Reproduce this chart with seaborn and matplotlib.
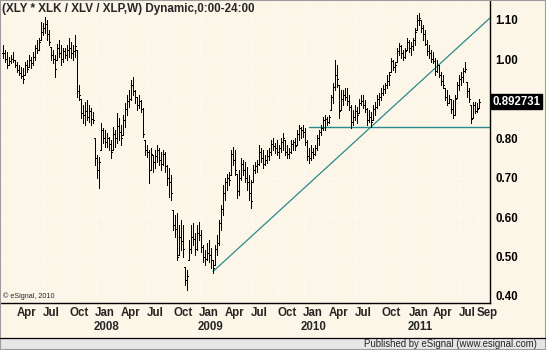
import numpy as np
import pandas as pd
import matplotlib
matplotlib.use("Agg")
import matplotlib.pyplot as plt
from matplotlib.patches import Rectangle
from matplotlib.lines import Line2D
import seaborn as sns

# ---- weekly ratio bars: (XLY * XLK) / (XLV * XLP) ----
first_week = "2007-02-09"

highs = [
    1.036, 1.024, 1.019, 1.006, 1.011, 1.019, 0.999, 0.993, 0.986, 0.981,
    0.978, 0.993, 0.999, 1.011, 1.006, 1.019, 1.036, 1.049, 1.054, 1.095,
    1.092, 1.107, 1.100, 1.075, 1.031, 1.024, 1.011, 1.040, 1.049, 1.036,
    1.029, 1.029, 1.036, 1.054, 1.044, 1.036, 1.062, 1.024, 0.935, 0.900,
    0.884, 0.892, 0.897, 0.884, 0.877, 0.867, 0.800, 0.758, 0.753, 0.839,
    0.826, 0.821, 0.813, 0.803, 0.796, 0.829, 0.821, 0.864, 0.851, 0.834,
    0.859, 0.890, 0.910, 0.922, 0.948, 0.955, 0.922, 0.905, 0.910, 0.897,
    0.877, 0.796, 0.783, 0.770, 0.775, 0.758, 0.770, 0.783, 0.775, 0.765,
    0.770, 0.765, 0.732, 0.725, 0.707, 0.618, 0.605, 0.610, 0.580, 0.593,
    0.580, 0.474, 0.466, 0.542, 0.580, 0.585, 0.560, 0.580, 0.588, 0.567,
    0.529, 0.517, 0.535, 0.542, 0.522, 0.491, 0.529, 0.555, 0.593, 0.631,
    0.682, 0.700, 0.710, 0.715, 0.770, 0.778, 0.770, 0.710, 0.719, 0.750,
    0.745, 0.740, 0.727, 0.707, 0.694, 0.732, 0.740, 0.745, 0.783, 0.775,
    0.770, 0.758, 0.770, 0.775, 0.796, 0.800, 0.788, 0.796, 0.783, 0.800,
    0.813, 0.796, 0.783, 0.775, 0.796, 0.796, 0.800, 0.821, 0.834, 0.829,
    0.834, 0.826, 0.796, 0.775, 0.783, 0.775, 0.783, 0.808, 0.821, 0.834,
    0.854, 0.859, 0.854, 0.859, 0.910, 0.940, 0.999, 0.986, 0.935, 0.922,
    0.922, 0.928, 0.928, 0.910, 0.884, 0.872, 0.884, 0.879, 0.900, 0.910,
    0.910, 0.897, 0.877, 0.872, 0.867, 0.884, 0.892, 0.910, 0.915, 0.928,
    0.935, 0.940, 0.960, 0.968, 1.004, 0.999, 0.993, 1.029, 1.041, 1.036,
    1.024, 1.029, 1.054, 1.049, 1.044, 1.054, 1.080, 1.113, 1.118, 1.100,
    1.087, 1.075, 1.049, 1.036, 1.024, 1.019, 1.004, 0.999, 0.986, 0.968,
    0.960, 0.928, 0.922, 0.910, 0.900, 0.897, 0.910, 0.943, 0.960, 0.968,
    0.978, 0.993, 0.943, 0.928, 0.884, 0.892, 0.892, 0.890, 0.900,
]

lows = [
    1.004, 0.994, 0.978, 0.986, 0.991, 0.994, 0.981, 0.968, 0.960, 0.953,
    0.940, 0.960, 0.968, 0.981, 0.978, 0.986, 0.999, 1.016, 1.024, 1.049,
    1.062, 1.067, 1.049, 1.037, 0.999, 0.991, 0.955, 0.999, 1.006, 0.986,
    0.994, 1.004, 0.999, 1.006, 1.004, 0.999, 1.006, 0.905, 0.897, 0.851,
    0.839, 0.834, 0.846, 0.841, 0.834, 0.839, 0.732, 0.700, 0.675, 0.770,
    0.788, 0.778, 0.778, 0.770, 0.750, 0.770, 0.778, 0.788, 0.796, 0.783,
    0.808, 0.829, 0.859, 0.879, 0.897, 0.910, 0.890, 0.872, 0.877, 0.867,
    0.803, 0.758, 0.753, 0.687, 0.719, 0.715, 0.725, 0.740, 0.732, 0.719,
    0.732, 0.715, 0.682, 0.651, 0.643, 0.567, 0.550, 0.491, 0.504, 0.517,
    0.500, 0.428, 0.415, 0.491, 0.509, 0.529, 0.504, 0.517, 0.542, 0.512,
    0.486, 0.479, 0.491, 0.486, 0.471, 0.459, 0.479, 0.504, 0.529, 0.567,
    0.605, 0.643, 0.669, 0.682, 0.707, 0.732, 0.707, 0.649, 0.656, 0.694,
    0.707, 0.689, 0.669, 0.643, 0.623, 0.689, 0.712, 0.715, 0.732, 0.740,
    0.725, 0.732, 0.737, 0.745, 0.758, 0.770, 0.763, 0.758, 0.750, 0.765,
    0.770, 0.758, 0.750, 0.750, 0.763, 0.770, 0.770, 0.783, 0.796, 0.800,
    0.803, 0.783, 0.745, 0.737, 0.745, 0.750, 0.758, 0.770, 0.783, 0.808,
    0.821, 0.821, 0.834, 0.839, 0.872, 0.890, 0.922, 0.930, 0.851, 0.872,
    0.884, 0.897, 0.884, 0.872, 0.826, 0.834, 0.846, 0.839, 0.864, 0.884,
    0.877, 0.867, 0.834, 0.841, 0.829, 0.846, 0.859, 0.877, 0.884, 0.897,
    0.910, 0.915, 0.928, 0.935, 0.968, 0.973, 0.968, 0.993, 1.011, 1.004,
    0.999, 1.004, 1.024, 1.019, 1.011, 1.024, 1.036, 1.075, 1.087, 1.070,
    1.049, 1.036, 1.011, 1.004, 0.993, 0.991, 0.960, 0.968, 0.955, 0.935,
    0.928, 0.897, 0.884, 0.890, 0.864, 0.851, 0.859, 0.902, 0.922, 0.935,
    0.943, 0.968, 0.905, 0.892, 0.839, 0.851, 0.864, 0.867, 0.877,
]

closes = [
    1.015, 1.000, 0.985, 0.995, 1.000, 0.998, 0.985, 0.972, 0.965, 0.958,
    0.950, 0.985, 0.975, 0.998, 0.990, 1.005, 1.030, 1.025, 1.045, 1.070,
    1.080, 1.090, 1.065, 1.045, 1.010, 1.000, 0.975, 1.030, 1.015, 1.000,
    1.020, 1.010, 1.025, 1.030, 1.015, 1.020, 1.035, 0.920, 0.910, 0.865,
    0.860, 0.870, 0.855, 0.870, 0.850, 0.845, 0.750, 0.720, 0.740, 0.820,
    0.800, 0.790, 0.800, 0.785, 0.765, 0.810, 0.800, 0.830, 0.815, 0.800,
    0.845, 0.875, 0.895, 0.900, 0.935, 0.920, 0.905, 0.885, 0.895, 0.875,
    0.810, 0.770, 0.765, 0.720, 0.760, 0.740, 0.755, 0.770, 0.745, 0.735,
    0.760, 0.730, 0.700, 0.690, 0.660, 0.580, 0.570, 0.500, 0.550, 0.540,
    0.520, 0.440, 0.450, 0.520, 0.550, 0.545, 0.520, 0.560, 0.555, 0.525,
    0.500, 0.495, 0.510, 0.505, 0.490, 0.470, 0.520, 0.535, 0.585, 0.620,
    0.660, 0.690, 0.700, 0.695, 0.760, 0.745, 0.720, 0.665, 0.700, 0.735,
    0.720, 0.700, 0.690, 0.660, 0.640, 0.720, 0.730, 0.735, 0.765, 0.750,
    0.735, 0.745, 0.755, 0.765, 0.785, 0.780, 0.775, 0.765, 0.775, 0.790,
    0.800, 0.765, 0.760, 0.765, 0.785, 0.790, 0.780, 0.810, 0.825, 0.820,
    0.815, 0.790, 0.755, 0.750, 0.765, 0.760, 0.775, 0.800, 0.815, 0.825,
    0.845, 0.850, 0.840, 0.855, 0.905, 0.930, 0.960, 0.950, 0.870, 0.900,
    0.910, 0.905, 0.895, 0.880, 0.840, 0.855, 0.870, 0.860, 0.890, 0.895,
    0.885, 0.875, 0.845, 0.855, 0.840, 0.875, 0.880, 0.900, 0.905, 0.915,
    0.925, 0.935, 0.945, 0.960, 0.995, 0.980, 0.985, 1.020, 1.035, 1.015,
    1.005, 1.020, 1.045, 1.030, 1.035, 1.050, 1.070, 1.100, 1.105, 1.080,
    1.065, 1.040, 1.020, 1.015, 1.000, 0.995, 0.970, 0.985, 0.960, 0.945,
    0.935, 0.905, 0.890, 0.900, 0.875, 0.860, 0.900, 0.935, 0.950, 0.955,
    0.970, 0.975, 0.920, 0.900, 0.850, 0.885, 0.870, 0.875, 0.892731,
]

# drawn study lines (week index, value)
trend_weeks = [105, 243.5]
trend_values = [0.462, 1.105]
support_weeks = [153, 243.5]
support_values = [0.829, 0.829]

y_tick_values = [0.40, 0.50, 0.60, 0.70, 0.80, 1.00, 1.10]
y_grid_values = [0.40, 0.50, 0.60, 0.70, 0.80, 0.90, 1.00, 1.10]
label_months = [1, 4, 7, 10]

title_text = "(XLY * XLK / XLV / XLP,W) Dynamic,0:00-24:00"
copyright_text = "\u00a9 eSignal, 2010"
footer_text = "Published by eSignal (www.esignal.com)"

# ---- styling ----
BG = "#FCF6E8"
TEAL = "#2a8a8a"
sns.set_theme(style="white", rc={"figure.facecolor": BG, "axes.facecolor": BG})
plt.rcParams["font.family"] = ["Liberation Sans", "DejaVu Sans"]

W, H = 546, 350
fig = plt.figure(figsize=(W / 100, H / 100), dpi=100)
ax = fig.add_axes([1 / W, 1 - 303 / H, 489 / W, 302 / H])
ax.set_facecolor(BG)

n = len(closes)
weeks = np.arange(n)
dates = pd.date_range(first_week, periods=n, freq="W-FRI")
hi = np.array(highs)
lo = np.array(lows)
cl = np.array(closes)
op = np.clip(np.concatenate([[cl[0]], cl[:-1]]), lo, hi)

df = pd.DataFrame({"week": weeks, "date": dates, "high": hi, "low": lo,
                   "open": op, "close": cl})

# month / year label positions: first bar of each labelled month
month_pos, month_txt, year_pos, year_txt = [], [], [], []
for i, d in enumerate(df["date"]):
    new_month = i == 0 or df["date"].iloc[i - 1].month != d.month
    if not new_month or i == 0:
        continue
    if d.month in label_months or i == n - 1:
        month_pos.append(i)
        month_txt.append(d.strftime("%b"))
        if d.month == 1:
            year_pos.append(i)
            year_txt.append(str(d.year))

# dotted grid
for v in y_grid_values:
    ax.axhline(v, color="white", lw=0.9, ls=(0, (1, 2)), zorder=0)
for p in month_pos:
    ax.axvline(p - 0.5, color="white", lw=0.9, ls=(0, (1, 2)), zorder=0)

# OHLC bars
bar_kw = dict(color="black", lw=0.72, zorder=3, antialiased=False)
ax.vlines(df["week"], df["low"], df["high"], **bar_kw)
ax.hlines(df["open"], df["week"] - 0.55, df["week"], **bar_kw)
ax.hlines(df["close"], df["week"], df["week"] + 0.55, **bar_kw)

# trend and support lines
sns.lineplot(x=trend_weeks, y=trend_values, ax=ax, color=TEAL, lw=0.9, zorder=2)
sns.lineplot(x=support_weeks, y=support_values, ax=ax, color=TEAL, lw=1.0, zorder=2)

ax.set_xlim(-1, 243.5)
ax.set_ylim(0.3822, 1.148)

# axes frame
for side in ["top", "left"]:
    ax.spines[side].set_visible(False)
for side in ["right", "bottom"]:
    ax.spines[side].set_visible(True)
    ax.spines[side].set_color("black")
    ax.spines[side].set_linewidth(1.0)

# right price scale
ax.yaxis.tick_right()
ax.set_yticks(y_tick_values)
ax.set_yticklabels([f"{v:.2f}" for v in y_tick_values])
ax.tick_params(axis="y", length=0, pad=3.6, labelsize=8.3, colors="black")
for lab in ax.get_yticklabels():
    lab.set_fontweight("bold")
ax.set_xticks([])
ax.set_xlabel("")
ax.set_ylabel("")

# last value badge
ax.annotate(f"{closes[-1]:.6f}", xy=(1.0, closes[-1]),
            xycoords=("axes fraction", "data"),
            xytext=(1.8, 0), textcoords="offset points",
            ha="left", va="center", fontsize=8.3, fontweight="bold",
            color="white",
            bbox=dict(boxstyle="square,pad=0.12", fc="black", ec="black"))

# time scale labels
xt = ax.get_xaxis_transform()
for p, t in zip(month_pos, month_txt):
    ax.text(p - 1, -0.0331, t, transform=xt, ha="left", va="center",
            fontsize=8.3, fontweight="bold", clip_on=False)
for p, t in zip(year_pos, year_txt):
    ax.text(p + 4.5, -0.0795, t, transform=xt, ha="center", va="center",
            fontsize=8.3, fontweight="bold", clip_on=False)

# title and copyright inside the price pane
ax.text(1 / 489, 1 - 2 / 302, title_text, transform=ax.transAxes,
        ha="left", va="top", fontsize=8.4, fontweight="bold")
ax.text(2 / 489, 7 / 302, copyright_text, transform=ax.transAxes,
        ha="left", va="center", fontsize=5.2)

# footer strip and outer border
fh = 12.5 / H
fig.add_artist(Rectangle((0, 0), 1, fh, transform=fig.transFigure,
                         fc="#E6E6E6", ec="none"))
fig.add_artist(Line2D([0, 1], [fh, fh], transform=fig.transFigure,
                      color="black", lw=0.9))
fig.text(537 / W, fh / 2, footer_text, ha="right", va="center", fontsize=6.9)
fig.add_artist(Rectangle((0, 0), 1, 1, transform=fig.transFigure,
                         fill=False, ec="#9c9c9c", lw=1.5))

fig.savefig("out.png", dpi=100, facecolor=BG)
